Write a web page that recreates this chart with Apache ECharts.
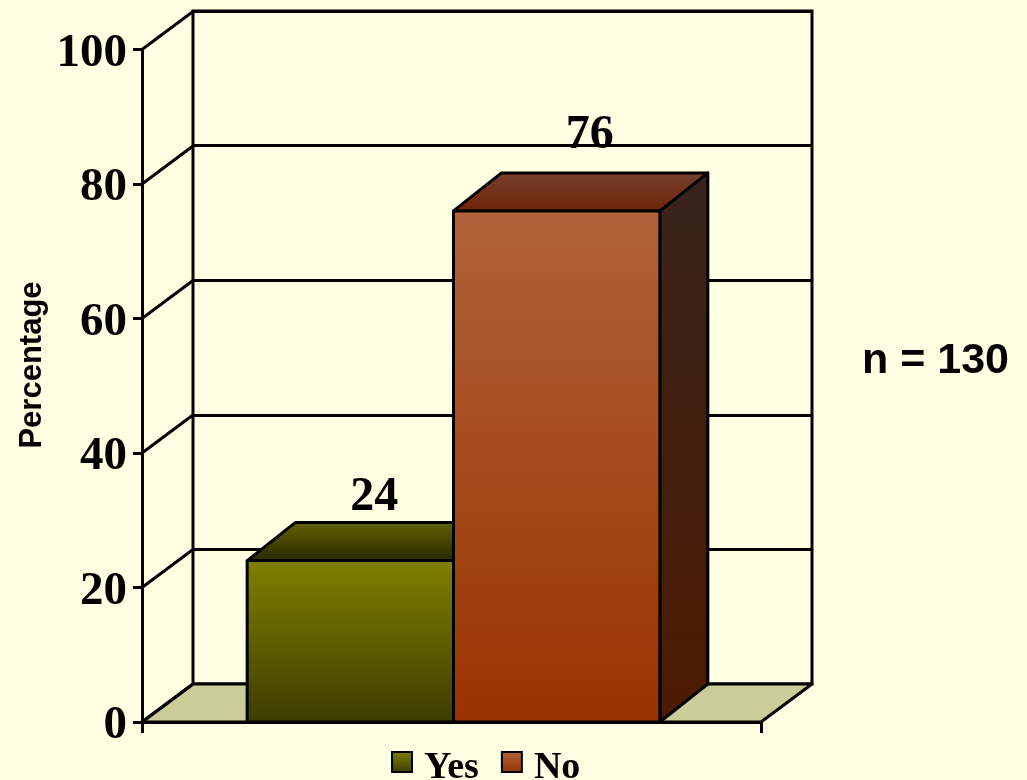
<!DOCTYPE html>
<html>
<head>
<meta charset="utf-8">
<title>Percentage</title>
<script src="https://cdn.jsdelivr.net/npm/echarts@6/dist/echarts.min.js"></script>
<style>
	html,body{margin:0;padding:0;background:#ffffe3;}
	#main{width:1027px;height:780px;}
</style>
</head>
<body>
<div id="main"></div>
<script>
var categories=['Yes','No'];
var yesValues=[24];
var noValues=[76];
var tickValues=[0,20,40,60,80,100];
var noteText='n = 130';
var axisTitle='Percentage';

var wallDepth=[51,-38];
var barDepth=[48,-38];
var labelNudge=[[24,-1],[33,-13]];
var serif='"Liberation Serif","Times New Roman",serif';
var sans='"Liberation Sans",Arial,sans-serif';

function vGrad(top,bottom){
	return new echarts.graphic.LinearGradient(0,0,0,1,[{offset:0,color:top},{offset:1,color:bottom}]);
}
var barFaces=[
	{front:vGrad('#808000','#3c3c00'),top:vGrad('#626200','#282800'),side:vGrad('#333300','#222200')},
	{front:vGrad('#b0623a','#993300'),top:vGrad('#744030','#702404'),side:vGrad('#38241c','#4e1a00')}
];

function poly(points,fill){
	return {type:'polygon',shape:{points:points},style:{fill:fill,stroke:'#000',lineWidth:3,lineJoin:'round'}};
}
// one box: front, top and side faces, plus its number
function renderBar(idx){
	return function(params,api){
		var w=api.size([1,0])[0]/3;
		var base=api.coord([0,0]);
		var topPt=api.coord([0,api.value(1)]);
		var x0=base[0]+w/2+2+idx*w, x1=x0+w;
		var y0=topPt[1], y1=base[1];
		var dx=barDepth[0], dy=barDepth[1];
		var f=barFaces[idx];
		return {type:'group',children:[
			poly([[x1,y0],[x1+dx,y0+dy],[x1+dx,y1+dy],[x1,y1]],f.side),
			poly([[x0,y0],[x0+dx,y0+dy],[x1+dx,y0+dy],[x1,y0]],f.top),
			poly([[x0,y0],[x1,y0],[x1,y1],[x0,y1]],f.front),
			{type:'text',style:{
				x:(x0+x1)/2+labelNudge[idx][0],
				y:y0+dy+labelNudge[idx][1],
				text:String(api.value(1)),
				fontFamily:serif,fontWeight:'bold',fontSize:48,fill:'#000',
				align:'center',verticalAlign:'bottom'
			}}
		]};
	};
}
// floor of the box
function renderFloor(params,api){
	var c=params.coordSys;
	var b=c.y+c.height, r=c.x+c.width;
	return poly([[c.x,b],[c.x+wallDepth[0],b+wallDepth[1]],[r+wallDepth[0],b+wallDepth[1]],[r,b]],'#cccc99');
}
// slanted lines from the front axis to the back wall
function renderSlant(params,api){
	var p=api.coord([0,api.value(1)]);
	var c=params.coordSys;
	return {type:'line',shape:{x1:c.x,y1:p[1],x2:c.x+wallDepth[0],y2:p[1]+wallDepth[1]},
		style:{stroke:'#000',lineWidth:3}};
}

var chart=echarts.init(document.getElementById('main'));
chart.setOption({
	animation:false,
	backgroundColor:'#ffffe3',
	grid:[
		{left:142,top:49.5,width:619,height:672.5,outerBoundsMode:'none'},
		{left:193,top:11,width:619,height:673,outerBoundsMode:'none',show:true,borderColor:'#000',borderWidth:3,backgroundColor:'transparent'}
	],
	xAxis:[
		{type:'value',gridIndex:0,min:0,max:1,interval:1,
			axisLine:{show:true,lineStyle:{color:'#000',width:3}},
			axisTick:{show:true,length:11,lineStyle:{color:'#000',width:3}},
			axisLabel:{show:false},splitLine:{show:false}},
		{type:'value',gridIndex:1,min:0,max:1,show:false,splitLine:{show:false}}
	],
	yAxis:[
		{type:'value',gridIndex:0,min:0,max:100,interval:20,
			axisLine:{show:true,lineStyle:{color:'#000',width:3}},
			axisTick:{show:true,length:9,lineStyle:{color:'#000',width:3}},
			axisLabel:{margin:15,verticalAlign:'top',lineHeight:8,fontFamily:serif,fontWeight:'bold',fontSize:47,color:'#000'},
			splitLine:{show:false}},
		{type:'value',gridIndex:1,min:0,max:100,interval:20,
			axisLine:{show:false},axisTick:{show:false},axisLabel:{show:false},
			splitLine:{show:true,lineStyle:{color:'#000',width:3}}}
	],
	legend:{
		data:categories,left:386,top:744,itemWidth:20,itemHeight:20,itemGap:22,icon:'rect',
		// tall spacer token so the name can sit a little below the swatch centre
		formatter:function(name){return '{s| }{n|'+name+'}';},
		textStyle:{rich:{
			s:{fontSize:1,lineHeight:50,width:7},
			n:{fontFamily:serif,fontWeight:'bold',fontSize:38,lineHeight:44,verticalAlign:'bottom',color:'#000'}
		}}
	},
	graphic:[
		{type:'text',left:862,top:340,style:{text:noteText,fontFamily:sans,fontWeight:'bold',fontSize:43,fill:'#000'}},
		{type:'text',x:32,y:365,rotation:Math.PI/2,style:{text:axisTitle,x:0,y:0,align:'center',verticalAlign:'middle',fontFamily:sans,fontWeight:'bold',fontSize:31,fill:'#000'}}
	],
	series:[
		{type:'custom',name:'floor',xAxisIndex:0,yAxisIndex:0,data:[[0,0]],renderItem:renderFloor,z:1,silent:true},
		{type:'custom',name:'slants',xAxisIndex:0,yAxisIndex:0,data:tickValues.map(function(v){return [0,v];}),encode:{x:0,y:1},renderItem:renderSlant,z:1,silent:true},
		{type:'custom',name:categories[0],xAxisIndex:0,yAxisIndex:0,z:3,
			data:yesValues.map(function(v){return [0,v];}),encode:{x:0,y:1},renderItem:renderBar(0),
			itemStyle:{color:barFaces[0].front,borderColor:'#000',borderWidth:3}},
		{type:'custom',name:categories[1],xAxisIndex:0,yAxisIndex:0,z:4,
			data:noValues.map(function(v){return [0,v];}),encode:{x:0,y:1},renderItem:renderBar(1),
			itemStyle:{color:barFaces[1].front,borderColor:'#000',borderWidth:3}}
	]
});
</script>
</body>
</html>
